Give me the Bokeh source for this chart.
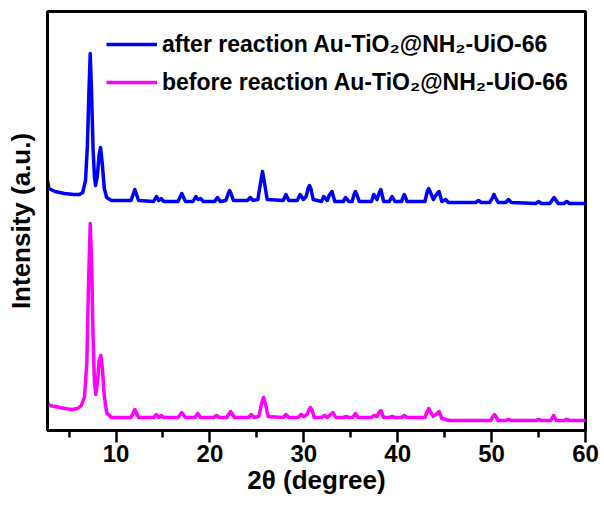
from bokeh.plotting import figure
from bokeh.models import Range1d, FixedTicker
from bokeh.embed import file_html
from bokeh.resources import INLINE

# --- data (2θ in degree, intensity in a.u.) ---
two_theta_after = [2.7, 2.85, 3.5, 4.5, 5.5, 6.1, 6.45, 6.75, 6.95, 7.1, 7.25, 7.4, 7.55, 7.7, 7.82, 8.0, 8.2, 8.35, 8.55, 8.75, 9.0, 9.5,
                   11.6, 11.85, 12.0, 12.15, 12.4, 14.0, 14.3, 14.55, 14.8, 15.1, 16.6, 16.85, 17.0, 17.15, 17.4,
                   18.2, 18.5, 18.75, 19.0, 19.3, 20.5, 20.8, 21.1, 21.7, 21.95, 22.1, 22.25, 22.5,
                   24.0, 24.3, 24.6, 25.1, 25.4, 25.6, 25.8, 26.1, 27.8, 28.1, 28.4,
                   29.3, 29.6, 29.95, 30.25, 30.45, 30.6, 30.75, 31.0, 31.9, 32.1, 32.5, 32.75, 33.0, 33.3,
                   34.2, 34.45, 34.8, 35.15, 35.35, 35.5, 35.65, 35.9, 37.2, 37.45, 37.8, 38.0, 38.2, 38.5,
                   39.1, 39.4, 39.7, 40.4, 40.7, 41.0, 42.9, 43.15, 43.3, 43.45, 43.8, 44.2, 44.4, 44.7, 45.1, 45.4,
                   48.3, 48.6, 48.9, 49.8, 50.1, 50.25, 50.4, 50.7, 51.5, 51.8, 52.1,
                   54.7, 55.0, 55.3, 56.2, 56.5, 56.65, 56.8, 57.1, 57.7, 58.0, 58.3, 60.0]
intensity_after = [250, 242, 239, 237, 236, 236, 238, 250, 285, 335, 377, 335, 282, 254, 245, 254, 276, 283, 265, 242, 233, 230,
                   230, 237, 241, 237, 230, 229, 234, 230, 232, 229, 229, 234, 237, 234, 229,
                   229, 234, 231, 232, 229, 229, 233, 229, 230, 237, 240, 237, 230,
                   230, 233, 230, 231, 248, 259, 248, 231, 230, 236, 230,
                   230, 236, 231, 234, 242, 245, 242, 231, 229, 234, 230, 236, 239, 229,
                   229, 233, 229, 229, 236, 239, 236, 229, 229, 236, 231, 237, 241, 229,
                   229, 234, 229, 229, 236, 229, 229, 239, 242, 239, 231, 237, 239, 229, 231, 228,
                   228, 230, 228, 228, 233, 236, 233, 228, 228, 231, 228,
                   227, 229, 227, 227, 231, 233, 231, 227, 227, 229, 227, 227]

two_theta_before = [2.7, 2.9, 3.5, 4.5, 5.3, 5.9, 6.3, 6.65, 6.9, 7.05, 7.25, 7.4, 7.55, 7.7, 7.85, 8.05, 8.2, 8.38, 8.55, 8.75, 9.0, 9.5,
                    11.6, 11.85, 12.0, 12.15, 12.4, 14.0, 14.3, 14.55, 14.8, 15.1, 16.6, 16.85, 17.0, 17.15, 17.4,
                    18.4, 18.7, 19.0, 20.4, 20.7, 21.0, 21.8, 22.05, 22.2, 22.35, 22.6,
                    24.1, 24.4, 24.7, 25.2, 25.5, 25.7, 25.9, 26.2, 27.8, 28.1, 28.4,
                    29.4, 29.7, 30.0, 30.35, 30.55, 30.7, 30.85, 31.1, 31.9, 32.2, 32.5, 32.85, 33.1, 33.4,
                    34.2, 34.5, 34.8, 35.2, 35.5, 35.8, 37.2, 37.5, 37.8, 38.0, 38.2, 38.5,
                    39.1, 39.4, 39.7, 40.4, 40.7, 41.0, 42.9, 43.15, 43.3, 43.45, 43.8, 44.2, 44.4, 44.7, 45.5,
                    49.9, 50.15, 50.3, 50.45, 50.7, 51.5, 51.8, 52.1,
                    54.7, 55.0, 55.3, 56.3, 56.6, 56.9, 57.7, 58.0, 58.3, 60.0]
intensity_before = [28, 25, 24, 22, 21, 22, 25, 34, 70, 140, 207, 165, 95, 48, 36, 52, 70, 75, 62, 34, 18, 13,
                    13, 18, 21, 18, 13, 13, 16, 13, 15, 13, 13, 16, 18, 16, 13,
                    13, 17, 13, 13, 15, 13, 13, 17, 19, 17, 13,
                    13, 16, 13, 14, 27, 33, 27, 14, 13, 16, 13,
                    13, 16, 14, 16, 21, 23, 21, 13, 13, 15, 13, 16, 18, 13,
                    13, 14, 13, 13, 17, 13, 13, 15, 14, 18, 20, 13,
                    13, 14, 13, 13, 15, 13, 13, 19, 22, 19, 14, 17, 19, 12, 10,
                    10, 14, 16, 14, 10, 10, 11, 10,
                    10, 11, 10, 10, 15, 10, 10, 11, 10, 10]

label_after = "after reaction Au-TiO\u2082@NH\u2082-UiO-66"
label_before = "before reaction Au-TiO\u2082@NH\u2082-UiO-66"
x_major_ticks = [10, 20, 30, 40, 50, 60]
x_minor_ticks = [5, 15, 25, 35, 45, 55]
x_title = "2\u03b8 (degree)"
y_title = "Intensity (a.u.)"

FONT = "Liberation Sans"

p = figure(width=604, height=505, output_backend="svg", toolbar_location=None,
           x_range=Range1d(2.7, 60), y_range=Range1d(0, 419),
           min_border_left=47, min_border_right=19, min_border_top=11, min_border_bottom=75)

p.line(two_theta_after, intensity_after, line_color="#0000FF", line_width=3.5,
       line_join="round", legend_label=label_after)
p.line(two_theta_before, intensity_before, line_color="#FF00FF", line_width=3.5,
       line_join="round", legend_label=label_before)

p.grid.visible = False
p.background_fill_color = "white"
p.border_fill_color = "white"
p.outline_line_color = "black"
p.outline_line_width = 3

xa = p.xaxis[0]
xa.ticker = FixedTicker(ticks=x_major_ticks, minor_ticks=x_minor_ticks)
xa.axis_line_width = 3
xa.major_tick_line_width = 2.5
xa.minor_tick_line_width = 2.5
xa.major_tick_in = 0
xa.major_tick_out = 12
xa.minor_tick_in = 0
xa.minor_tick_out = 7
xa.major_label_standoff = 2
xa.major_label_text_font = FONT
xa.major_label_text_font_style = "bold"
xa.major_label_text_font_size = "24px"
xa.major_label_text_color = "black"
xa.axis_label = x_title
xa.axis_label_standoff = 0
xa.axis_label_text_font = FONT
xa.axis_label_text_font_style = "bold"
xa.axis_label_text_font_size = "26px"
xa.axis_label_text_color = "black"

ya = p.yaxis[0]
ya.ticker = FixedTicker(ticks=[])
ya.axis_line_width = 3
ya.major_tick_line_color = None
ya.minor_tick_line_color = None
ya.major_label_standoff = 0
ya.major_label_text_font_size = "0px"
ya.axis_label = y_title
ya.axis_label_standoff = 12
ya.axis_label_text_font = FONT
ya.axis_label_text_font_style = "bold"
ya.axis_label_text_font_size = "26px"
ya.axis_label_text_color = "black"

lg = p.legend[0]
lg.location = (59, 333)
lg.padding = 0
lg.margin = 0
lg.spacing = 8
lg.glyph_width = 51
lg.glyph_height = 30
lg.label_height = 30
lg.label_standoff = 5
lg.border_line_color = None
lg.background_fill_alpha = 0
lg.label_text_font = FONT
lg.label_text_font_style = "bold"
lg.label_text_font_size = "23px"
lg.label_text_color = "black"

open("out.html", "w").write(file_html(p, INLINE))
